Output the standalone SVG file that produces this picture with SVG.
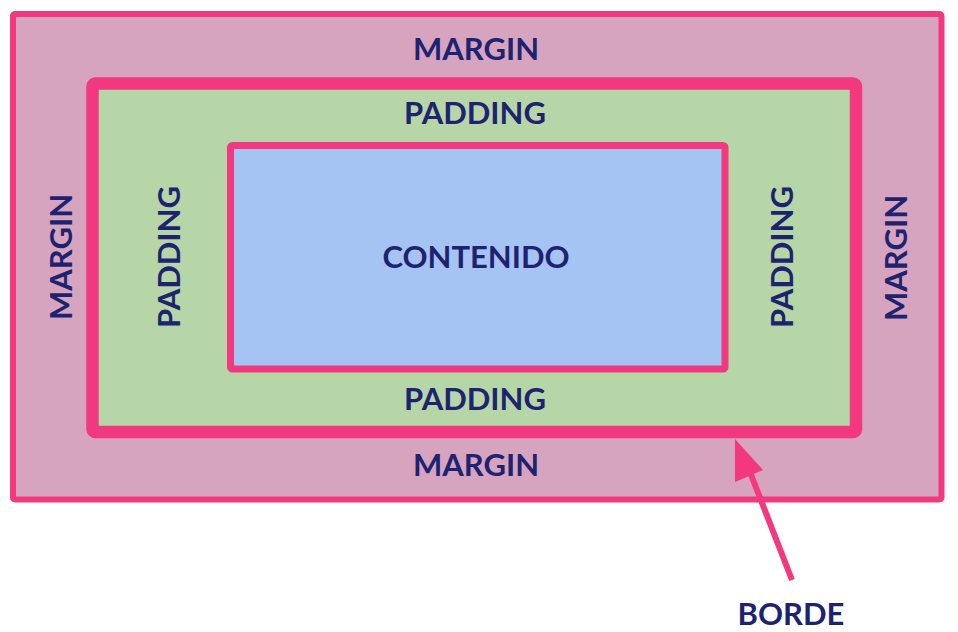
<svg xmlns="http://www.w3.org/2000/svg" width="958" height="632" viewBox="0 0 958 632">
<style>
.t{font-family:Lato,"Liberation Sans",sans-serif;font-weight:bold;fill:#1e2370;text-anchor:middle;font-size:31px}
.b{stroke:#f2387f;stroke-linejoin:round}
</style>
<rect width="958" height="632" fill="#ffffff"/>
<g id="margin">
<rect class="b" x="13" y="14" width="928.5" height="485.5" rx="2" fill="#d6a4bf" stroke-width="6"/>
<text class="t" x="476" y="60">MARGIN</text>
<text class="t" x="476" y="476">MARGIN</text>
<text class="t" transform="translate(72,257) rotate(-90)">MARGIN</text>
<text class="t" transform="translate(907,258) rotate(-90)">MARGIN</text>
</g>
<g id="borde">
<rect class="b" x="92.5" y="83.5" width="763.5" height="348.5" rx="3" fill="#b6d6a7" stroke-width="12.5"/>
</g>
<g id="padding">
<text class="t" x="475" y="124">PADDING</text>
<text class="t" x="475" y="410">PADDING</text>
<text class="t" transform="translate(180,257) rotate(-90)">PADDING</text>
<text class="t" transform="translate(793,257) rotate(-90)">PADDING</text>
</g>
<g id="contenido">
<rect class="b" x="230.5" y="145.5" width="494.5" height="223.5" rx="2" fill="#a5c3f3" stroke-width="7"/>
<text class="t" x="476" y="268">CONTENIDO</text>
</g>
<g id="connectors">
<line x1="792" y1="580" x2="750" y2="472" stroke="#f2387f" stroke-width="6"/>
<polygon points="735,439 735,482 763,470" fill="#f2387f"/>
</g>
<g id="borde-label">
<text class="t" x="791" y="625">BORDE</text>
</g>
</svg>
